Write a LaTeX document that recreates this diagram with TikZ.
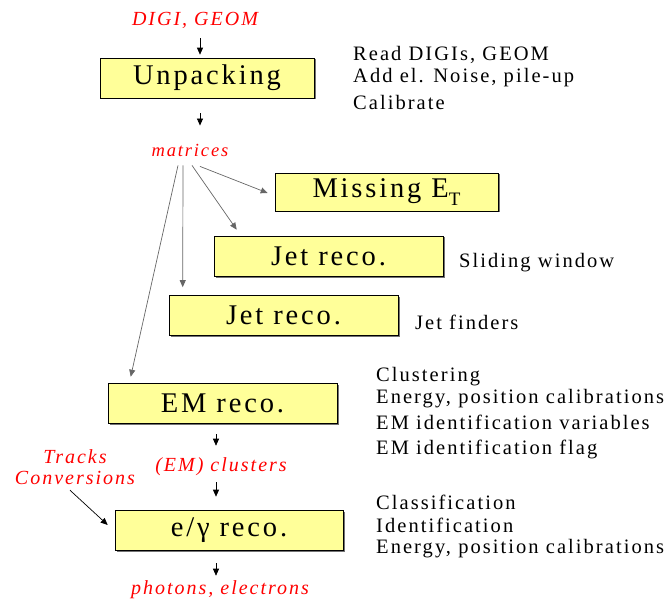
\documentclass[tikz,border=0pt]{standalone}
\usepackage{fontspec}
\setmainfont{Liberation Serif}[LetterSpace=10]
\usetikzlibrary{arrows.meta,shadows}
\definecolor{boxfill}{RGB}{255,255,153}
\definecolor{redtext}{RGB}{255,0,0}
\begin{document}
\begin{tikzpicture}[x=1pt,y=-1pt,
  box/.style={draw=black, line width=0.6pt, fill=boxfill, inner sep=0pt,
    minimum width=229pt, minimum height=40pt,
    font=\fontsize{28.5}{30}\selectfont,
    drop shadow={shadow xshift=1.5pt, shadow yshift=-1.5pt, fill=black!55, opacity=1}},
  lab/.style={text=redtext, inner sep=0pt, font=\itshape\fontsize{20}{21}\selectfont},
  note/.style={anchor=west, inner sep=0pt, font=\fontsize{20.5}{23}\selectfont},
  arr/.style={-{Triangle[length=7pt,width=6pt]}, line width=0.7pt, draw=black},
  garr/.style={arr, draw=black!60}]
\useasboundingbox (0,0) rectangle (670,599);

% main flow
\node[lab] (digi) at (195,20) {DIGI, GEOM};
\node[box, minimum width=214pt] (unp) at (207,78) {Unpacking};
\node[lab, font=\itshape\fontsize{18.5}{19}\selectfont] (mat) at (190,150) {matrices};
\node[box, minimum width=223pt, minimum height=38pt] (miss) at (386.5,192)
  {Missing E\raisebox{-0.3em}{\fontsize{19}{19}\selectfont T}};
\node[box] (jet1) at (328.5,256) {Jet reco.};
\node[box] (jet2) at (283.5,315.5) {Jet reco.};
\node[box] (em) at (222.5,403) {EM reco.};
\node[lab] (clus) at (221,467) {(EM) clusters};
\node[box, minimum width=228pt] (eg) at (229,530) {e/γ reco.};
\node[lab] (phot) at (220,590) {photons, electrons};
\node[lab, align=center, font=\itshape\fontsize{20}{21}\selectfont] (trk) at (75,467.5) {Tracks\\Conversions};

% notes
\node[note] (n1) at (353,55) {Read DIGIs, GEOM};
\node[note] (n2) at (353,78) {Add el. Noise, pile-up};
\node[note] (n3) at (353,102) {Calibrate};
\node[note] (n4) at (459,263) {Sliding window};
\node[note] (n5) at (415,322) {Jet finders};
\node[note] (n6) at (376,377) {Clustering};
\node[note] (n7) at (376,399) {Energy, position calibrations};
\node[note] (n8) at (376,422) {EM identification variables};
\node[note] (n9) at (376,449) {EM identification flag};
\node[note] (n10) at (376,502) {Classification};
\node[note] (n11) at (376,525) {Identification};
\node[note] (n12) at (376,549) {Energy, position calibrations};

% connectors
\draw[arr] ([xshift=5pt,yshift=-10pt]digi.south) -- ([xshift=-7pt,yshift=3pt]unp.north);
\draw[arr] ([xshift=-7pt,yshift=-15pt]unp.south) -- ([xshift=10pt,yshift=18pt]mat.north);
\draw[garr] ([xshift=10pt,yshift=-10pt]mat.south) -- ([xshift=-7pt,yshift=-1pt]miss.west);
\draw[garr] ([xshift=2pt,yshift=-9pt]mat.south) -- ([xshift=23pt,yshift=6pt]jet1.north west);
\draw[garr] ([xshift=-7pt,yshift=-9pt]mat.south) -- ([xshift=14pt,yshift=8pt]jet2.north west);
\draw[garr] ([xshift=-12pt,yshift=-9pt]mat.south) -- ([xshift=23pt,yshift=6pt]em.north west);
\draw[arr] ([xshift=-6.5pt,yshift=-11pt]em.south) -- ([xshift=-5pt,yshift=12pt]clus.north);
\draw[arr] ([xshift=-5pt,yshift=-6pt]clus.south) -- ([xshift=-13pt,yshift=13pt]eg.north);
\draw[arr] ([xshift=-13pt,yshift=-13pt]eg.south) -- ([xshift=-4pt,yshift=5pt]phot.north);
\draw[arr] ([xshift=-5pt,yshift=-5pt]trk.south) -- ([xshift=-7pt,yshift=5pt]eg.west);
\end{tikzpicture}
\end{document}
